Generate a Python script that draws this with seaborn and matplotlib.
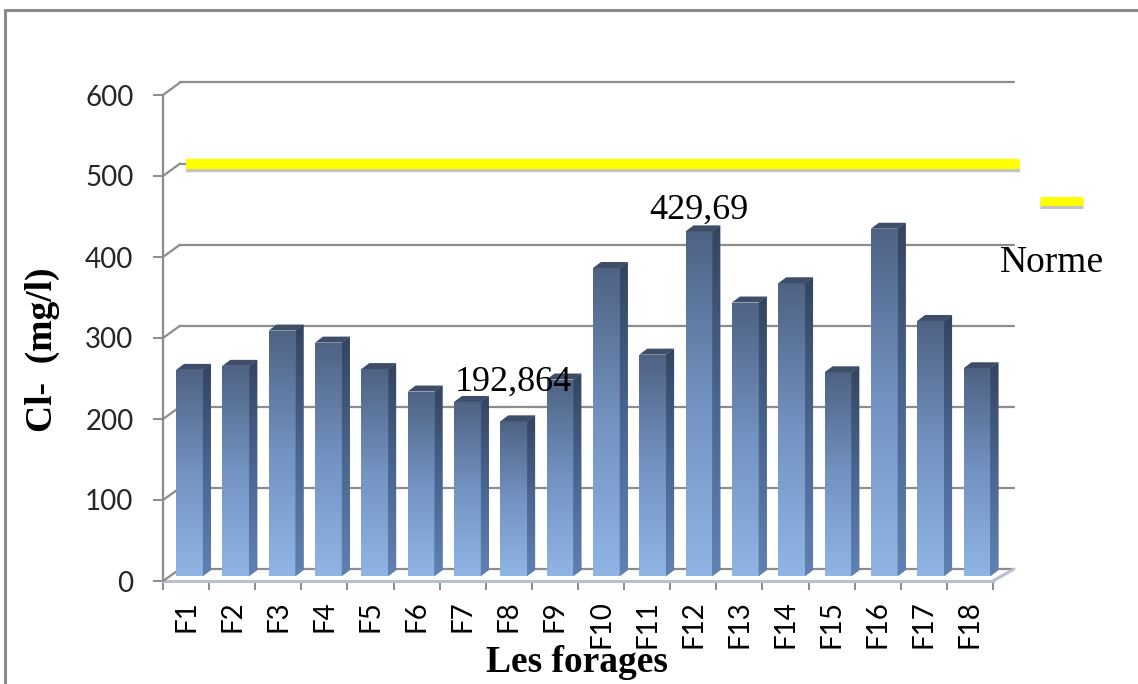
import numpy as np
import seaborn as sns
import matplotlib
matplotlib.use("Agg")
import matplotlib.pyplot as plt
import matplotlib.patheffects as pe
from matplotlib.colors import LinearSegmentedColormap
from matplotlib.patches import Polygon
from matplotlib.lines import Line2D
from matplotlib.transforms import IdentityTransform, ScaledTranslation

# ---- data -------------------------------------------------------------
forages = [f"F{i}" for i in range(1, 19)]
chlorures = [257, 262, 306, 291, 258, 230, 217, 192.864, 245,
             384, 276, 429.69, 341, 365, 254, 433, 318, 259]
norme = 500
labelled = ["F8", "F12"]
y_ticks = [0, 100, 200, 300, 400, 500, 600]

# ---- style ------------------------------------------------------------
sns.set_theme(style="white")
plt.rcParams["font.family"] = ["Lato", "DejaVu Sans"]
SERIF = ["Liberation Serif", "DejaVu Serif"]
GRID = "#8c8c8c"
TICK_TXT = "#262626"

W, H = 1138, 684
fig = plt.figure(figsize=(W / 100, H / 100), dpi=100)
fig.patch.set_facecolor("white")


def px_rect(x0, y_top, x1, y_bot):
    """Axes rectangle from pixel box (origin top-left)."""
    return [x0 / W, (H - y_bot) / H, (x1 - x0) / W, (y_bot - y_top) / H]


# three planes of the pseudo-3D chart: back wall, front edge, bar plane
axb = fig.add_axes(px_rect(180, 82.5, 1014, 569), zorder=0)
axf = fig.add_axes(px_rect(163, 95, 993, 581), zorder=1)
ax = fig.add_axes(px_rect(166.3, 94.8, 1000.1, 576), zorder=2)
for a in (axb, axf, ax):
    a.patch.set_alpha(0)
    a.set_ylim(0, 600)
axb.set_xlim(0, 18)
axf.set_xlim(0, 18)

# outer chart frame (top and left edges)
frame_kw = dict(transform=IdentityTransform(), color="#8a8a8a", lw=2.2)
fig.add_artist(Line2D([5, W + 10], [H - 10, H - 10], **frame_kw))
fig.add_artist(Line2D([5, 5], [-10, H - 10], **frame_kw))

# ---- back wall gridlines ---------------------------------------------
for v in y_ticks:
    axb.axhline(v, color=GRID, lw=1.6, zorder=0, clip_on=False)
axb.set_axis_off()

# diagonal links from the front axis ticks to the back wall
for v in y_ticks:
    p0 = axf.transData.transform((0, v))
    p1 = axb.transData.transform((0, v))
    fig.add_artist(Line2D([p0[0], p1[0]], [p0[1], p1[1]], transform=IdentityTransform(),
                          color=GRID, lw=1.6))
p0 = axf.transData.transform((18, 0))
p1 = axb.transData.transform((18, 0))
fig.add_artist(Line2D([p0[0], p1[0]], [p0[1], p1[1]], transform=IdentityTransform(),
                      color="#b8c0d0", lw=2.2))

# ---- norm line on the back wall --------------------------------------
shift = ScaledTranslation(6 / 100, 0, fig.dpi_scale_trans)
x_lo, x_hi = axb.get_xlim()
axb.plot([x_lo, x_hi], [norme, norme], color="#ffff00", lw=7.5, solid_capstyle="butt",
         transform=axb.transData + shift, clip_on=False, zorder=3,
         path_effects=[pe.SimpleLineShadow(offset=(0, -2.5), shadow_color="#7a7a7a", alpha=0.45),
                       pe.Normal()])

# ---- front axis -------------------------------------------------------
for s in ("top", "right"):
    axf.spines[s].set_visible(False)
axf.spines["left"].set_color(GRID)
axf.spines["left"].set_linewidth(1.6)
axf.spines["bottom"].set_color("#b8c0d0")
axf.spines["bottom"].set_linewidth(2.2)
axf.set_yticks(y_ticks)
axf.set_yticklabels([str(v) for v in y_ticks])
axf.tick_params(axis="y", direction="out", length=7.2, width=1.4, color=GRID,
                pad=14, labelsize=20, labelcolor=TICK_TXT, left=True)
axf.set_xticks(np.arange(len(forages) + 1))
axf.set_xticklabels([])
axf.set_xticks(np.arange(len(forages)) + 0.5, minor=True)
axf.set_xticklabels(forages, minor=True, rotation=90)
axf.tick_params(axis="x", which="major", direction="out", length=6.5, width=1.4,
                color=GRID, bottom=True)
axf.tick_params(axis="x", which="minor", length=0, pad=14, labelsize=20,
                labelcolor="black", bottom=True)
axf.grid(False)

axf.set_ylabel("Cl-  (mg/l)", fontsize=27, fontweight="bold", family=SERIF,
               color="black", va="center", ha="center")
axf.yaxis.set_label_coords((42 - 163) / 830, (581 - 350) / 486)
axf.set_xlabel("Les forages", fontsize=27, fontweight="bold", family=SERIF,
               color="black", va="baseline", ha="center")
axf.xaxis.set_label_coords((577 - 163) / 830, (581 - 672) / 486)

# ---- bars -------------------------------------------------------------
sns.barplot(x=forages, y=chlorures, ax=ax, width=0.58, color="#6b87b3",
            saturation=1, errorbar=None, edgecolor="none")
ax.set_xlim(-0.5, len(forages) - 0.5)
ax.set_ylim(0, 600)
ax.set_axis_off()

front_cmap = LinearSegmentedColormap.from_list("front", ["#90b5e5", "#7393c2", "#4e6283"])
side_cmap = LinearSegmentedColormap.from_list("side", ["#5f82b4", "#4a6590", "#34445f"])
grad = np.linspace(0, 1, 256).reshape(-1, 1)

# depth of each bar (8 px right, 6 px up) in data units of the bar plane
ux = ax.transData.transform((1, 0))[0] - ax.transData.transform((0, 0))[0]
uy = ax.transData.transform((0, 1))[1] - ax.transData.transform((0, 0))[1]
dx, dy = 8 / ux, 6 / uy

for p in list(ax.patches):
    x0, w, h = p.get_x(), p.get_width(), p.get_height()
    x1 = x0 + w
    im = ax.imshow(grad, cmap=front_cmap, extent=(x0, x1, 0, h), origin="lower",
                   aspect="auto", interpolation="bilinear", zorder=3)
    im.set_clip_path(p)
    side = Polygon([(x1, 0), (x1 + dx, dy), (x1 + dx, h + dy), (x1, h)],
                   closed=True, facecolor="#4a6590", edgecolor="none", zorder=3)
    ax.add_patch(side)
    ims = ax.imshow(grad, cmap=side_cmap, extent=(x1, x1 + dx, 0, h + dy), origin="lower",
                    aspect="auto", interpolation="bilinear", zorder=3)
    ims.set_clip_path(side)
    cap = Polygon([(x0, h), (x1, h), (x1 + dx, h + dy), (x0 + dx, h + dy)],
                  closed=True, facecolor="#3e4d68", edgecolor="none", zorder=4)
    ax.add_patch(cap)
ax.set_xlim(-0.5, len(forages) - 0.5)
ax.set_ylim(0, 600)

# value labels on the highest and lowest wells
label_offsets = {"F8": 22, "F12": 9}
for name in labelled:
    i = forages.index(name)
    v = chlorures[i]
    ax.annotate(f"{v:g}".replace(".", ","), (i, v), xytext=(0, label_offsets[name]),
                textcoords="offset points", ha="center", va="baseline",
                fontsize=26, family=SERIF, color="black", zorder=6)

# ---- legend -----------------------------------------------------------
fig.add_artist(Line2D([1040, 1083], [H - 201, H - 201], transform=IdentityTransform(),
                      color="#ffff00", lw=6.5, solid_capstyle="butt",
                      path_effects=[pe.SimpleLineShadow(offset=(0, -2.5), shadow_color="#7a7a7a",
                                                        alpha=0.45), pe.Normal()]))
fig.text(1052 / W, 1 - 272 / H, "Norme", ha="center", va="baseline", fontsize=27,
         family=SERIF, color="black")

fig.savefig("out.png", dpi=100, facecolor="white")
